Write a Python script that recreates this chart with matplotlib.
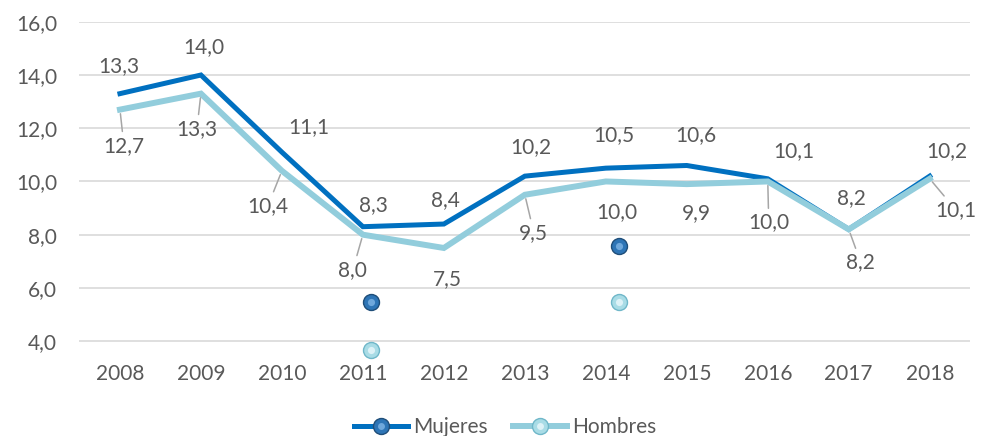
import matplotlib.pyplot as plt
from matplotlib.lines import Line2D
from matplotlib.legend_handler import HandlerTuple

plt.rcParams['font.family'] = ['Lato', 'DejaVu Sans']

# datos
years = ['2008', '2009', '2010', '2011', '2012', '2013', '2014', '2015', '2016', '2017', '2018']
mujeres = [13.3, 14.0, 11.1, 8.3, 8.4, 10.2, 10.5, 10.6, 10.1, 8.2, 10.2]
hombres = [12.7, 13.3, 10.4, 8.0, 7.5, 9.5, 10.0, 9.9, 10.0, 8.2, 10.1]

# bolitas sueltas dentro del grafico (x en indice de categoria)
dots_muj_x = [3.1, 6.16]
dots_muj_y = [5.47, 7.57]
dots_hom_x = [3.1, 6.16]
dots_hom_y = [3.66, 5.47]

# offsets de las etiquetas (pixeles)
off_muj = [(-1, 28), (3, 28), (27, 25), (11, 22), (2, 24), (6, 29),
           (8, 33), (9, 30), (26, 28), (3, 31), (17, 25)]
off_hom = [(4, -36), (-4, -35), (-14, -35), (-10, -35), (4, -31), (9, -38),
           (11, -31), (10, -29), (1, -41), (12, -33), (26, -31)]
leader_hom = [True, True, True, True, False, True, False, False, True, True, True]

DARK = '#0070C0'
LIGHT = '#92CDDC'
GREY = '#595959'
FS = 15

fig = plt.figure(figsize=(9.81, 4.36), dpi=100)
ax = fig.add_axes([0.081, 0.181, 0.908, 0.769])

x = list(range(len(years)))
ax.plot(x, mujeres, color=DARK, lw=3.6, solid_joinstyle='miter', zorder=3)
ax.plot(x, hombres, color=LIGHT, lw=4.3, solid_joinstyle='miter', zorder=4)

def sphere(xs, ys, edge, face, hi, size=11.5):
    ax.plot(xs, ys, ls='none', marker='o', ms=size, mfc=face, mec=edge, mew=1.0, zorder=5, clip_on=False)
    ax.plot(xs, ys, ls='none', marker='o', ms=size * 0.45, mfc=hi, mec='none', zorder=6, clip_on=False)

sphere(dots_muj_x, dots_muj_y, '#1F4E79', '#2E75B6', '#6FA8DC')
sphere(dots_hom_x, dots_hom_y, '#6FB7C9', '#A9DCE6', '#DDF2F7')

for i, v in enumerate(mujeres):
    ax.annotate(f'{v:.1f}'.replace('.', ','), (i, v), xytext=off_muj[i], textcoords='offset pixels',
                ha='center', va='center', fontsize=FS, color=GREY, zorder=7)
for i, v in enumerate(hombres):
    arrow = None
    if leader_hom[i]:
        arrow = dict(arrowstyle='-', color='#A6A6A6', lw=1.1, shrinkA=1, shrinkB=3)
    ax.annotate(f'{v:.1f}'.replace('.', ','), (i, v), xytext=off_hom[i], textcoords='offset pixels',
                ha='center', va='center', fontsize=FS, color=GREY, zorder=7, arrowprops=arrow)

ax.set_xlim(-0.5, len(years) - 0.5)
ax.set_ylim(3.4, 16)
ax.set_yticks([4, 6, 8, 10, 12, 14, 16])
ax.set_yticklabels([f'{t:.1f}'.replace('.', ',') for t in [4, 6, 8, 10, 12, 14, 16]])
ax.set_xticks(x)
ax.set_xticklabels(years)
ax.tick_params(axis='both', length=0, labelsize=FS, labelcolor=GREY)
ax.tick_params(axis='y', pad=16)
ax.tick_params(axis='x', pad=5)
ax.grid(axis='y', color='#D9D9D9', lw=1.2)
ax.set_axisbelow(True)
for s in ax.spines.values():
    s.set_visible(False)

h_m = (Line2D([], [], color=DARK, lw=3.6, marker='o', ms=11.5, mfc='#2E75B6', mec='#1F4E79'),
       Line2D([], [], ls='none', marker='o', ms=5, mfc='#6FA8DC', mec='none'))
h_h = (Line2D([], [], color=LIGHT, lw=4.3, marker='o', ms=11.5, mfc='#A9DCE6', mec='#6FB7C9'),
       Line2D([], [], ls='none', marker='o', ms=5, mfc='#DDF2F7', mec='none'))
fig.legend([h_m, h_h], ['Mujeres', 'Hombres'], loc='lower center', bbox_to_anchor=(0.515, -0.045),
           ncol=2, frameon=False, fontsize=FS, labelcolor=GREY, handlelength=2.6,
           handletextpad=0.25, columnspacing=1.2,
           handler_map={tuple: HandlerTuple(ndivide=1, pad=0)})

fig.savefig('out.png', dpi=100)
